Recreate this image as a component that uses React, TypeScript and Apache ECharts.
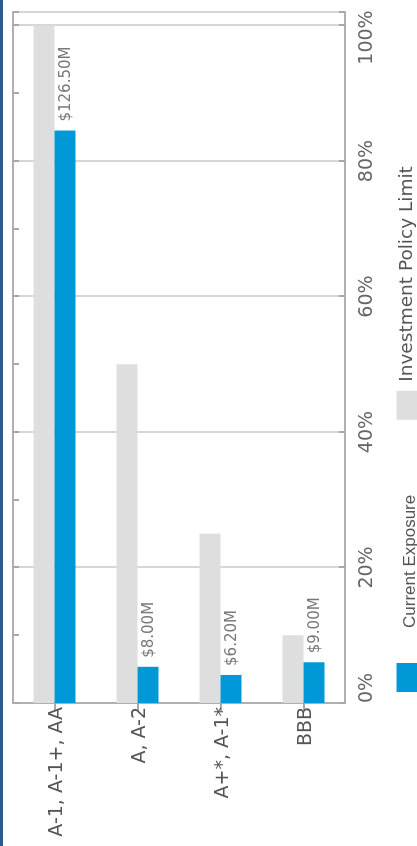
import React, { useEffect, useRef } from "react";
import * as echarts from "echarts";

// Credit-quality buckets and their values
const categories = ["A-1, A-1+, AA", "A, A-2", "A+*, A-1*", "BBB"];
const policyLimitPct = [100, 50, 25, 10];
const exposureMillions = [126.5, 8.0, 6.2, 9.0];
const seriesNames = ["Current Exposure", "Investment Policy Limit"];

// Exposure is plotted as each bucket's share of the whole portfolio
const totalExposure = exposureMillions.reduce((a, b) => a + b, 0);
const exposurePct = exposureMillions.map((v) => (v / totalExposure) * 100);

// The chart is laid out as a horizontal bar chart and then turned a quarter
// turn counter-clockwise to fit the tall page.
const W = 846;
const H = 417;

const AXIS_GREY = "#b0b0b0";
const TICK_GREY = "#a8a8a8";
const GRID_GREY = "#c8c8c8";
const LABEL_GREY = "#666666";

export default function App() {
  const ref = useRef<HTMLDivElement>(null);

  useEffect(() => {
    if (!ref.current) return;
    const chart = echarts.init(ref.current, null, {
      renderer: "svg",
      width: W,
      height: H,
    });

    chart.setOption({
      animation: false,
      backgroundColor: "#ffffff",
      graphic: [
        {
          type: "rect",
          shape: { x: 0, y: 0, width: W, height: 3 },
          style: { fill: "#2e5c87" },
          silent: true,
        },
      ],
      grid: {
        left: 143,
        right: 12,
        top: 13,
        bottom: 72,
        containLabel: false,
        outerBoundsMode: "none",
      },
      legend: {
        data: seriesNames,
        left: 149,
        top: 391,
        itemWidth: 29,
        itemHeight: 25,
        itemGap: 75,
        icon: "rect",
        formatter: (name: string) =>
          name === seriesNames[0] ? `{a|${name}}` : `{b|${name}}`,
        textStyle: {
          rich: {
            a: {
              fontFamily: "Liberation Sans, Arial, sans-serif",
              fontSize: 17,
              lineHeight: 18,
              color: "#555555",
              padding: [0, 0, 0, 30],
            },
            b: {
              fontFamily: "DejaVu Sans, sans-serif",
              fontSize: 18.5,
              lineHeight: 19,
              color: "#555555",
              padding: [0, 0, 7, 4],
            },
          },
        },
      },
      xAxis: [
        {
          type: "value",
          position: "bottom",
          min: 0,
          max: 102,
          interval: 20,
          axisLine: { show: true, lineStyle: { color: AXIS_GREY, width: 2 } },
          axisTick: {
            show: true,
            inside: true,
            length: 6,
            lineStyle: { color: TICK_GREY, width: 2 },
          },
          splitLine: { show: true, lineStyle: { color: GRID_GREY, width: 1.5 } },
          axisLabel: {
            margin: 10,
            alignMinLabel: "left",
            fontFamily: "DejaVu Sans, sans-serif",
            fontSize: 19,
            color: LABEL_GREY,
            formatter: (v: number) =>
              v > 100 ? "" : v === 100 ? `{edge|${v}%}` : `${v}%`,
            rich: {
              edge: {
                fontFamily: "DejaVu Sans, sans-serif",
                fontSize: 19,
                color: LABEL_GREY,
                padding: [0, 24, 0, 0],
              },
            },
          },
        },
        {
          type: "value",
          position: "top",
          min: 0,
          max: 102,
          interval: 10,
          axisLine: { show: true, lineStyle: { color: AXIS_GREY, width: 2 } },
          axisTick: {
            show: true,
            inside: true,
            length: 6,
            lineStyle: { color: TICK_GREY, width: 2 },
          },
          splitLine: { show: false },
          axisLabel: { show: false },
        },
      ],
      yAxis: [
        {
          type: "category",
          data: categories,
          inverse: true,
          position: "left",
          axisLine: { show: true, lineStyle: { color: AXIS_GREY, width: 2 } },
          axisTick: { show: false },
          axisLabel: {
            margin: 4,
            fontFamily: "DejaVu Sans, sans-serif",
            fontSize: 19,
            color: "#555555",
          },
        },
        {
          type: "category",
          data: categories,
          inverse: true,
          position: "right",
          axisLine: { show: true, lineStyle: { color: AXIS_GREY, width: 2 } },
          axisTick: {
            show: true,
            inside: true,
            alignWithLabel: true,
            length: 8,
            lineStyle: { color: TICK_GREY, width: 2 },
          },
          axisLabel: { show: false },
        },
      ],
      series: [
        {
          name: seriesNames[1],
          type: "bar",
          data: policyLimitPct,
          barWidth: 21,
          barGap: "0%",
          itemStyle: { color: "#dedede" },
        },
        {
          name: seriesNames[0],
          type: "bar",
          data: exposurePct,
          barWidth: 21,
          barGap: "0%",
          itemStyle: { color: "#0098d6" },
          label: {
            show: true,
            position: "right",
            distance: 9,
            fontFamily: "DejaVu Sans, sans-serif",
            fontSize: 15,
            color: "#777777",
            formatter: (p: { dataIndex: number }) =>
              `$${exposureMillions[p.dataIndex].toFixed(2)}M`,
          },
        },
      ],
    });

    return () => {
      chart.dispose();
    };
  }, []);

  return (
    <div
      ref={ref}
      style={{
        position: "fixed",
        left: 0,
        top: 0,
        width: W,
        height: H,
        transformOrigin: "0 0",
        transform: `translateY(${W}px) rotate(-90deg)`,
      }}
    />
  );
}
